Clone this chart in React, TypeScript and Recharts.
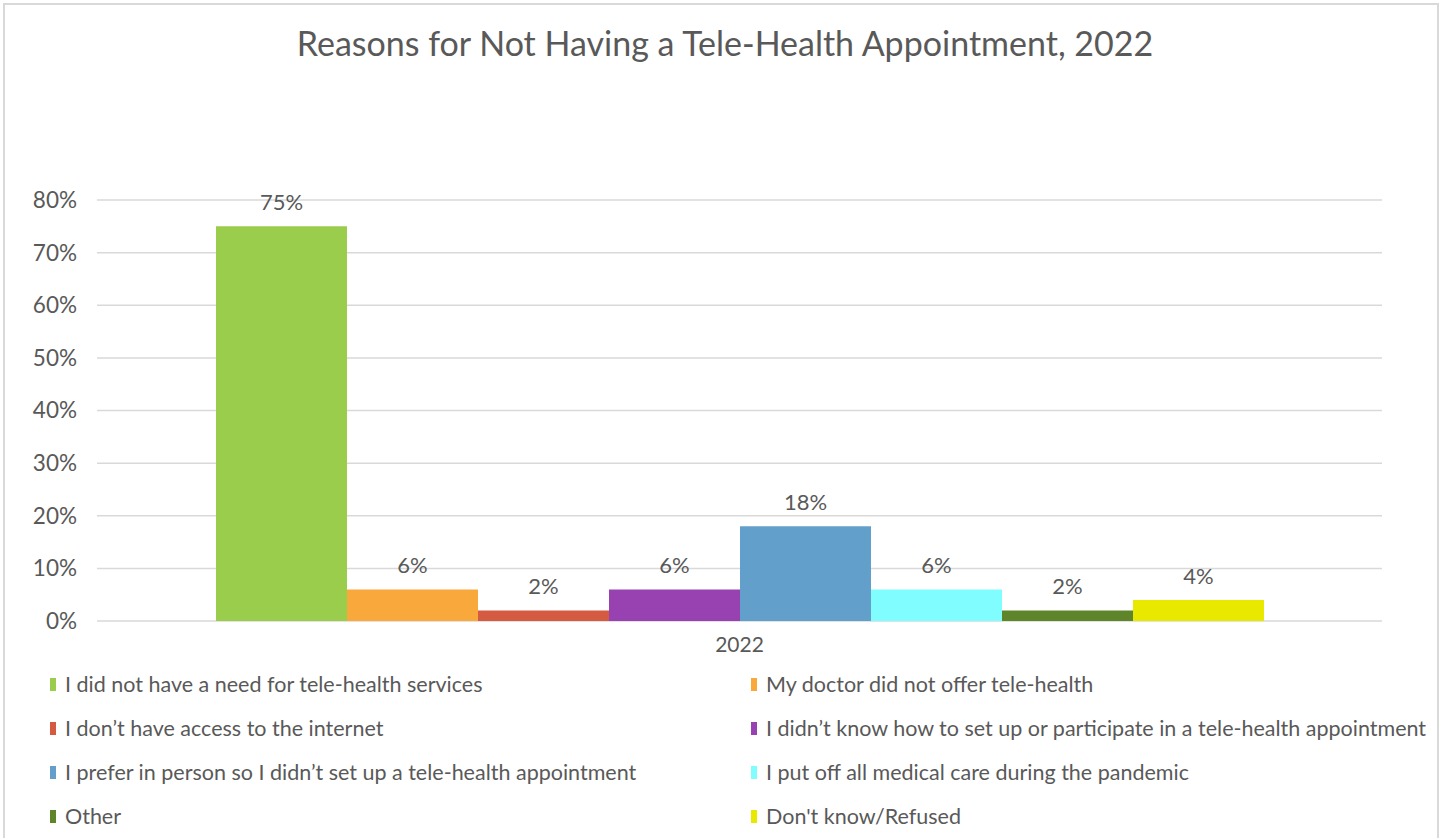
import React from 'react';
import { BarChart, Bar, XAxis, YAxis, CartesianGrid, Legend, LabelList } from 'recharts';

// Datos
const categories = ['2022'];
const reasons = [
  'I did not have a need for tele-health services',
  'My doctor did not offer tele-health',
  'I don\u2019t have access to the internet',
  'I didn\u2019t know how to set up or participate in a tele-health appointment',
  'I prefer in person so I didn\u2019t set up a tele-health appointment',
  'I put off all medical care during the pandemic',
  'Other',
  "Don't know/Refused",
];
const values = [75, 6, 2, 6, 18, 6, 2, 4];
const colors = ['#9BCD4C', '#F9A83C', '#D55A42', '#9841B0', '#62A0CB', '#80FDFE', '#5E852A', '#E9E900'];
const yTicks = [0, 10, 20, 30, 40, 50, 60, 70, 80];

const data = categories.map((name) => {
  const row: Record<string, any> = { name };
  reasons.forEach((r, i) => {
    row[`s${i}`] = values[i];
  });
  return row;
});

const FONT = 'Lato, "Open Sans", sans-serif';
const TEXT = '#595959';

const LegendGrid = () => (
  <div
    style={{
      display: 'grid',
      gridTemplateColumns: '701px 700px',
      fontFamily: FONT,
      fontSize: 21.5,
      color: TEXT,
    }}
  >
    {reasons.map((r, i) => (
      <div key={r} style={{ display: 'flex', alignItems: 'center', height: 44, whiteSpace: 'nowrap' }}>
        <span style={{ width: 6, height: 13, background: colors[i], marginRight: 9, display: 'inline-block' }} />
        {r}
      </div>
    ))}
  </div>
);

export default function App() {
  return (
    <div style={{ position: 'absolute', left: 0, top: 0, width: 1450, height: 838, background: '#fff', overflow: 'hidden' }}>
      <div
        style={{
          position: 'absolute',
          left: 3,
          top: 3,
          width: 1436,
          height: 860,
          border: '2px solid #D9D9D9',
          boxSizing: 'border-box',
        }}
      />
      <div
        style={{
          position: 'absolute',
          left: 0,
          top: 22,
          width: 1450,
          textAlign: 'center',
          fontFamily: FONT,
          fontSize: 34,
          color: TEXT,
        }}
      >
        Reasons for Not Having a Tele-Health Appointment, 2022
      </div>
      <div style={{ position: 'absolute', left: 0, top: 0 }}>
        <BarChart
          width={1450}
          height={838}
          data={data}
          margin={{ top: 200, right: 68, left: 0, bottom: 177 }}
          barGap={0}
          barSize={131}
        >
          <CartesianGrid vertical={false} stroke="#D9D9D9" strokeWidth={1.5} />
          <XAxis
            dataKey="name"
            axisLine={false}
            tickLine={false}
            height={40}
            tick={{ fontSize: 21, fill: TEXT, fontFamily: FONT }}
            dy={8}
          />
          <YAxis
            width={97}
            domain={[0, 80]}
            ticks={yTicks}
            interval={0}
            axisLine={false}
            tickLine={false}
            tickFormatter={(v: number) => `${v}%`}
            tick={{ fontSize: 22.5, fill: TEXT, fontFamily: FONT }}
            dx={-12}
          />
          <Legend
            layout="horizontal"
            verticalAlign="middle"
            align="center"
            wrapperStyle={{ position: 'absolute', left: 50, top: 662, width: 1400 }}
            content={() => <LegendGrid />}
          />
          {reasons.map((r, i) => (
            <Bar key={r} dataKey={`s${i}`} name={r} fill={colors[i]} isAnimationActive={false}>
              <LabelList
                dataKey={`s${i}`}
                position="top"
                offset={16}
                formatter={(v: any) => `${v}%`}
                style={{ fontSize: 22, fill: TEXT, fontFamily: FONT }}
              />
            </Bar>
          ))}
        </BarChart>
      </div>
    </div>
  );
}
